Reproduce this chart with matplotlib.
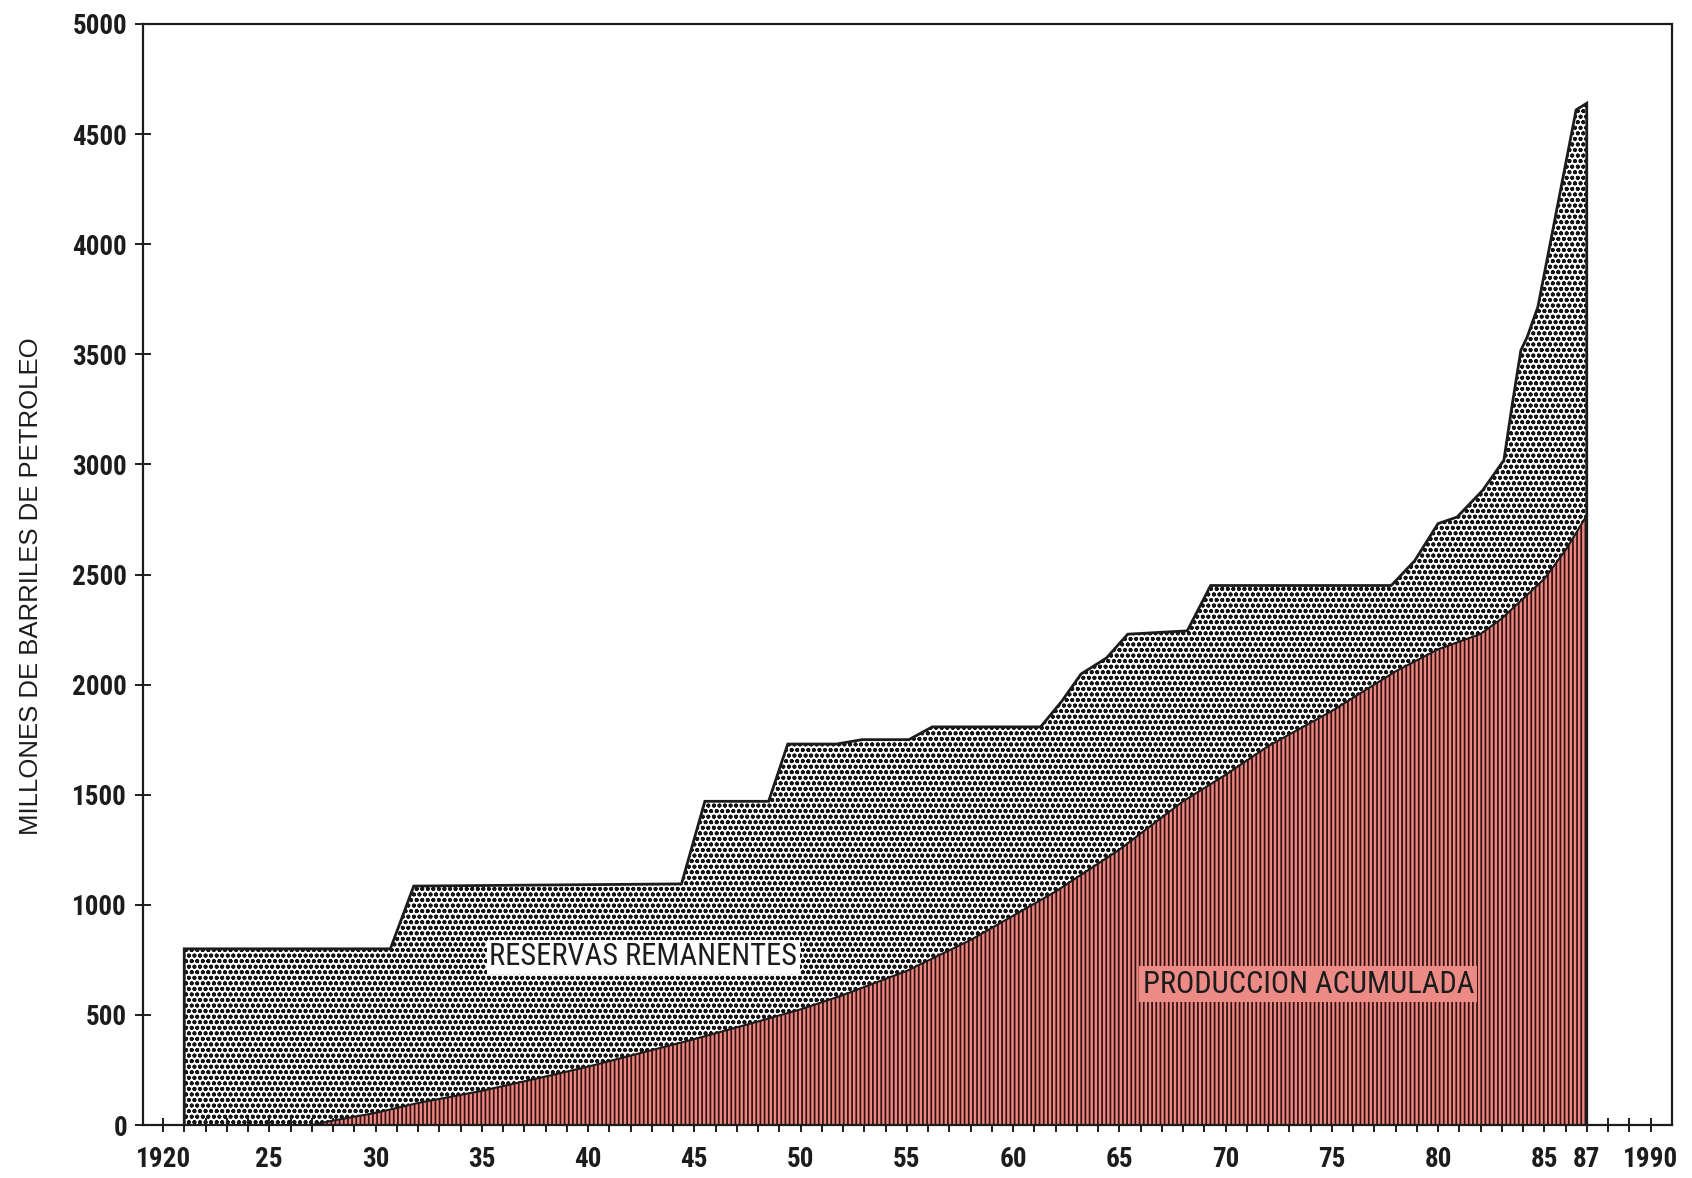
import matplotlib
matplotlib.use("Agg")
import matplotlib.pyplot as plt
from matplotlib import font_manager

# ---------------- data ----------------
# Total discovered oil (remaining reserves + cumulative production), millions of barrels
years_total = [1921, 1930.7, 1931.8, 1944.4, 1945.5, 1948.5, 1949.4, 1951.7, 1952.9,
               1955.1, 1956.2, 1961.3, 1962.3, 1963.2, 1964.4, 1965.4, 1968.2, 1969.3,
               1977.8, 1978.9, 1980.0, 1980.9, 1982.1, 1983.1, 1983.5, 1983.9, 1984.2,
               1984.7, 1986.5, 1987.0]
total = [800, 800, 1085, 1095, 1470, 1470, 1730, 1730, 1750,
         1750, 1808, 1808, 1925, 2048, 2121, 2229, 2244, 2450,
         2450, 2562, 2731, 2761, 2882, 3019, 3276, 3518, 3579,
         3715, 4610, 4640]

# Cumulative production, millions of barrels
years_prod = [1927, 1928, 1930, 1932, 1935, 1938, 1940, 1942, 1945, 1948, 1950, 1952,
              1955, 1958, 1960, 1962, 1965, 1968, 1970, 1972, 1975, 1978, 1980, 1982,
              1983, 1984, 1985, 1986, 1987]
prod = [0, 20, 55, 100, 155, 220, 265, 315, 390, 470, 525, 590,
        700, 840, 950, 1060, 1250, 1470, 1590, 1720, 1880, 2060, 2160, 2230,
        2300, 2390, 2480, 2610, 2768]

tick_years = list(range(1920, 1991))
label_years = [1920, 1925, 1930, 1935, 1940, 1945, 1950, 1955, 1960, 1965, 1970,
               1975, 1980, 1985, 1987, 1990]
label_texts = ["1920", "25", "30", "35", "40", "45", "50", "55", "60", "65", "70",
               "75", "80", "85", "87", "1990"]
y_ticks = list(range(0, 5001, 500))

ylabel = "MILLONES DE BARRILES DE PETROLEO"
label_reservas = "RESERVAS REMANENTES"
label_produccion = "PRODUCCION ACUMULADA"

# ---------------- fonts ----------------
names = {f.name for f in font_manager.fontManager.ttflist}


def pick(cands):
    for c in cands:
        if c in names:
            return c
    return "DejaVu Sans"


NARROW = pick(["Liberation Sans Narrow", "Roboto Condensed", "Open Sans Condensed",
               "DejaVu Sans Condensed", "Liberation Sans"])
REG = pick(["Liberation Sans", "Roboto", "DejaVu Sans"])

plt.rcParams["hatch.linewidth"] = 1.25
INK = "#1c1c1c"

# ---------------- figure ----------------
W, H = 1692, 1178
fig = plt.figure(figsize=(W / 100, H / 100), dpi=100)
fig.patch.set_facecolor("white")
ax = fig.add_axes([143 / W, (H - 1125) / H, (1671.7 - 143) / W, (1125 - 24) / H])

# remaining reserves area (dotted halftone)
x_tot = [years_total[0]] + years_total + [years_total[-1]]
y_tot = [0] + total + [0]
ax.fill_between(years_total, total, 0, facecolor="white", edgecolor="#151515",
                hatch="...ooo", linewidth=0, zorder=1)

# cumulative production area (red with vertical lines)
ax.fill_between(years_prod, prod, 0, facecolor="#ee8682", edgecolor="#2e1010",
                hatch="||||", linewidth=0, zorder=2)

# outlines
ax.plot(x_tot, y_tot, color=INK, lw=2.0, zorder=3, solid_joinstyle="miter")
ax.plot(years_prod, prod, color=INK, lw=1.5, zorder=3)

# labels in areas
ax.text(1942.6, 763, label_reservas, fontfamily=NARROW, fontsize=22, color=INK,
        ha="center", va="center", zorder=5,
        bbox=dict(facecolor="white", edgecolor="none", pad=2))
ax.text(1973.9, 640, label_produccion, fontfamily=NARROW, fontsize=22, color=INK,
        ha="center", va="center", zorder=5,
        bbox=dict(facecolor="#ec8a86", edgecolor="none", pad=2.5))

# axes
ax.set_xlim(1920 - 20 / 21.25, 1920 + (1671.7 - 163) / 21.25)
ax.set_ylim(0, 5000)
for s in ax.spines.values():
    s.set_linewidth(1.6)
    s.set_color(INK)

ax.set_xticks(tick_years)
lab_map = dict(zip(label_years, label_texts))
ax.set_xticklabels([lab_map.get(y, "") for y in tick_years])
ax.set_yticks(y_ticks)
ax.set_yticklabels([str(v) for v in y_ticks])

ax.tick_params(axis="x", direction="inout", length=10, width=1.4, color=INK,
               pad=10, labelsize=19.5, labelcolor=INK)
ax.tick_params(axis="y", direction="inout", length=11, width=1.4, color=INK,
               pad=6, labelsize=19.5, labelcolor=INK)
for lab in ax.get_xticklabels() + ax.get_yticklabels():
    lab.set_fontfamily(NARROW)
    lab.set_fontweight("bold")

fig.text(31 / W, 1 - 586 / H, ylabel, rotation=90, ha="center", va="center",
         fontfamily=REG, fontsize=18.5, color=INK)

fig.savefig("out.png", dpi=100, facecolor="white")
